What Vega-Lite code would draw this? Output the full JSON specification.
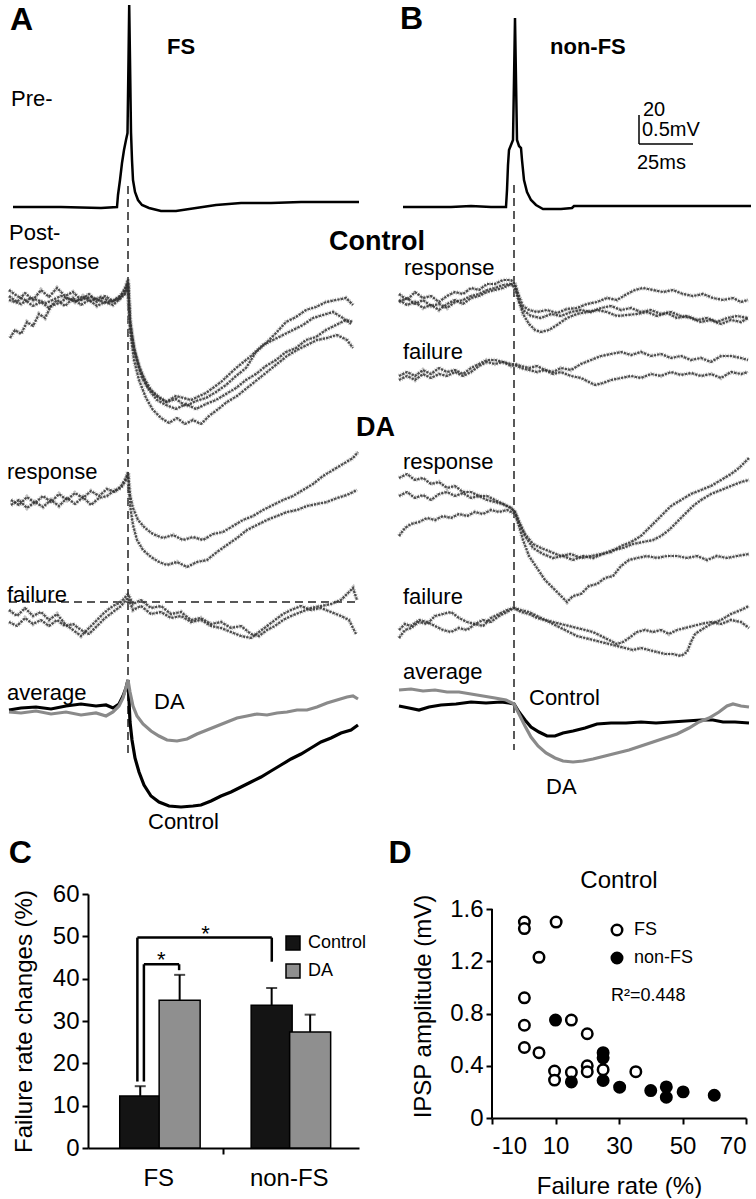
{
"$schema":"https://vega.github.io/schema/vega-lite/v6.json",
"padding":0,
"spacing":0,
"columns":1,
"align":"none",
"resolve":{"scale":{"color":"independent","fill":"independent"},"legend":{"color":"independent","fill":"independent"}},
"config":{"view":{"stroke":null},"font":"Liberation Sans",
"axis":{"domainColor":"black","domainWidth":2,"tickColor":"black","tickWidth":2,"tickSize":6,"labelColor":"black","titleColor":"black","labelFontSize":24,"titleFontSize":24,"titleFontWeight":"normal","grid":false,"labelFont":"Liberation Sans","titleFont":"Liberation Sans"},
"legend":{"labelFontSize":18,"labelColor":"black","labelFont":"Liberation Sans","padding":0},
"text":{"font":"Liberation Sans","color":"black"}},
"datasets":{
"pre":[
{"id":"pA","x":12,"y":207},{"id":"pA","x":60,"y":207},{"id":"pA","x":100,"y":208},{"id":"pA","x":116,"y":207},{"id":"pA","x":117,"y":195},{"id":"pA","x":119,"y":180},{"id":"pA","x":121,"y":163},{"id":"pA","x":123,"y":150},{"id":"pA","x":125,"y":140},{"id":"pA","x":126.5,"y":133},{"id":"pA","x":127.5,"y":60},{"id":"pA","x":128.2,"y":5},{"id":"pA","x":129,"y":60},{"id":"pA","x":130,"y":132},{"id":"pA","x":131,"y":160},{"id":"pA","x":132,"y":180},{"id":"pA","x":134,"y":192},{"id":"pA","x":137,"y":200},{"id":"pA","x":141,"y":205},{"id":"pA","x":148,"y":208},{"id":"pA","x":160,"y":211},{"id":"pA","x":175,"y":211},{"id":"pA","x":195,"y":208},{"id":"pA","x":215,"y":205},{"id":"pA","x":240,"y":203},{"id":"pA","x":270,"y":203},{"id":"pA","x":300,"y":202},{"id":"pA","x":330,"y":202},{"id":"pA","x":358,"y":202},
{"id":"pB","x":402,"y":207},{"id":"pB","x":450,"y":207},{"id":"pB","x":470,"y":206},{"id":"pB","x":490,"y":207},{"id":"pB","x":505,"y":207},{"id":"pB","x":506,"y":190},{"id":"pB","x":507,"y":165},{"id":"pB","x":508,"y":150},{"id":"pB","x":510,"y":145},{"id":"pB","x":512,"y":140},{"id":"pB","x":513,"y":80},{"id":"pB","x":514,"y":18},{"id":"pB","x":515,"y":80},{"id":"pB","x":516,"y":140},{"id":"pB","x":518,"y":146},{"id":"pB","x":520,"y":148},{"id":"pB","x":521,"y":160},{"id":"pB","x":523,"y":180},{"id":"pB","x":526,"y":192},{"id":"pB","x":530,"y":200},{"id":"pB","x":535,"y":205},{"id":"pB","x":542,"y":209},{"id":"pB","x":560,"y":209},{"id":"pB","x":571,"y":208},{"id":"pB","x":573,"y":206},{"id":"pB","x":600,"y":206},{"id":"pB","x":650,"y":206},{"id":"pB","x":700,"y":206},{"id":"pB","x":750,"y":206}
],
"noisy":[
{"id":"Ac1","x":8,"y":296},{"id":"Ac1","x":16,"y":302},{"id":"Ac1","x":24,"y":293},{"id":"Ac1","x":32,"y":300},{"id":"Ac1","x":40,"y":290},{"id":"Ac1","x":48,"y":297},{"id":"Ac1","x":56,"y":288},{"id":"Ac1","x":64,"y":296},{"id":"Ac1","x":72,"y":292},{"id":"Ac1","x":80,"y":300},{"id":"Ac1","x":88,"y":294},{"id":"Ac1","x":96,"y":302},{"id":"Ac1","x":104,"y":296},{"id":"Ac1","x":112,"y":301},{"id":"Ac1","x":120,"y":295},{"id":"Ac1","x":124,"y":290},{"id":"Ac1","x":127,"y":279},{"id":"Ac1","x":129,"y":318},{"id":"Ac1","x":131,"y":335},{"id":"Ac1","x":134,"y":352},{"id":"Ac1","x":138,"y":366},{"id":"Ac1","x":143,"y":378},{"id":"Ac1","x":150,"y":390},{"id":"Ac1","x":158,"y":397},{"id":"Ac1","x":166,"y":402},{"id":"Ac1","x":175,"y":399},{"id":"Ac1","x":185,"y":406},{"id":"Ac1","x":195,"y":401},{"id":"Ac1","x":205,"y":398},{"id":"Ac1","x":215,"y":392},{"id":"Ac1","x":225,"y":385},{"id":"Ac1","x":235,"y":376},{"id":"Ac1","x":245,"y":368},{"id":"Ac1","x":255,"y":352},{"id":"Ac1","x":265,"y":343},{"id":"Ac1","x":275,"y":333},{"id":"Ac1","x":285,"y":322},{"id":"Ac1","x":295,"y":317},{"id":"Ac1","x":305,"y":310},{"id":"Ac1","x":315,"y":307},{"id":"Ac1","x":325,"y":302},{"id":"Ac1","x":335,"y":300},{"id":"Ac1","x":345,"y":298},{"id":"Ac1","x":352,"y":305},
{"id":"Ac2","x":8,"y":290},{"id":"Ac2","x":16,"y":296},{"id":"Ac2","x":24,"y":300},{"id":"Ac2","x":32,"y":306},{"id":"Ac2","x":40,"y":302},{"id":"Ac2","x":48,"y":308},{"id":"Ac2","x":56,"y":300},{"id":"Ac2","x":64,"y":306},{"id":"Ac2","x":72,"y":298},{"id":"Ac2","x":80,"y":305},{"id":"Ac2","x":88,"y":300},{"id":"Ac2","x":96,"y":306},{"id":"Ac2","x":104,"y":302},{"id":"Ac2","x":112,"y":305},{"id":"Ac2","x":120,"y":298},{"id":"Ac2","x":125,"y":292},{"id":"Ac2","x":127,"y":282},{"id":"Ac2","x":129,"y":324},{"id":"Ac2","x":132,"y":345},{"id":"Ac2","x":136,"y":362},{"id":"Ac2","x":141,"y":378},{"id":"Ac2","x":148,"y":390},{"id":"Ac2","x":156,"y":400},{"id":"Ac2","x":165,"y":405},{"id":"Ac2","x":175,"y":409},{"id":"Ac2","x":185,"y":404},{"id":"Ac2","x":195,"y":409},{"id":"Ac2","x":205,"y":404},{"id":"Ac2","x":215,"y":400},{"id":"Ac2","x":225,"y":394},{"id":"Ac2","x":235,"y":388},{"id":"Ac2","x":245,"y":380},{"id":"Ac2","x":255,"y":374},{"id":"Ac2","x":265,"y":366},{"id":"Ac2","x":275,"y":360},{"id":"Ac2","x":285,"y":352},{"id":"Ac2","x":295,"y":348},{"id":"Ac2","x":305,"y":340},{"id":"Ac2","x":315,"y":337},{"id":"Ac2","x":325,"y":330},{"id":"Ac2","x":335,"y":325},{"id":"Ac2","x":345,"y":320},{"id":"Ac2","x":352,"y":322},
{"id":"Ac3","x":9,"y":338},{"id":"Ac3","x":14,"y":330},{"id":"Ac3","x":20,"y":334},{"id":"Ac3","x":26,"y":322},{"id":"Ac3","x":32,"y":326},{"id":"Ac3","x":38,"y":314},{"id":"Ac3","x":44,"y":318},{"id":"Ac3","x":50,"y":306},{"id":"Ac3","x":58,"y":303},{"id":"Ac3","x":66,"y":298},{"id":"Ac3","x":74,"y":302},{"id":"Ac3","x":82,"y":296},{"id":"Ac3","x":90,"y":301},{"id":"Ac3","x":100,"y":297},{"id":"Ac3","x":110,"y":302},{"id":"Ac3","x":118,"y":298},{"id":"Ac3","x":124,"y":294},{"id":"Ac3","x":127,"y":284},{"id":"Ac3","x":129,"y":330},{"id":"Ac3","x":133,"y":360},{"id":"Ac3","x":138,"y":380},{"id":"Ac3","x":145,"y":398},{"id":"Ac3","x":152,"y":410},{"id":"Ac3","x":160,"y":418},{"id":"Ac3","x":168,"y":423},{"id":"Ac3","x":176,"y":418},{"id":"Ac3","x":184,"y":424},{"id":"Ac3","x":192,"y":420},{"id":"Ac3","x":200,"y":424},{"id":"Ac3","x":208,"y":416},{"id":"Ac3","x":216,"y":410},{"id":"Ac3","x":226,"y":402},{"id":"Ac3","x":236,"y":396},{"id":"Ac3","x":246,"y":388},{"id":"Ac3","x":256,"y":380},{"id":"Ac3","x":266,"y":372},{"id":"Ac3","x":276,"y":364},{"id":"Ac3","x":286,"y":356},{"id":"Ac3","x":296,"y":350},{"id":"Ac3","x":306,"y":345},{"id":"Ac3","x":316,"y":340},{"id":"Ac3","x":326,"y":338},{"id":"Ac3","x":336,"y":335},{"id":"Ac3","x":346,"y":340},{"id":"Ac3","x":352,"y":348},
{"id":"Ac4","x":8,"y":300},{"id":"Ac4","x":20,"y":304},{"id":"Ac4","x":30,"y":298},{"id":"Ac4","x":45,"y":303},{"id":"Ac4","x":60,"y":296},{"id":"Ac4","x":75,"y":301},{"id":"Ac4","x":90,"y":297},{"id":"Ac4","x":105,"y":303},{"id":"Ac4","x":118,"y":299},{"id":"Ac4","x":127,"y":283},{"id":"Ac4","x":129,"y":322},{"id":"Ac4","x":133,"y":348},{"id":"Ac4","x":139,"y":370},{"id":"Ac4","x":146,"y":386},{"id":"Ac4","x":155,"y":396},{"id":"Ac4","x":165,"y":402},{"id":"Ac4","x":175,"y":396},{"id":"Ac4","x":190,"y":400},{"id":"Ac4","x":205,"y":393},{"id":"Ac4","x":220,"y":382},{"id":"Ac4","x":235,"y":368},{"id":"Ac4","x":250,"y":356},{"id":"Ac4","x":262,"y":345},{"id":"Ac4","x":272,"y":340},{"id":"Ac4","x":282,"y":335},{"id":"Ac4","x":292,"y":330},{"id":"Ac4","x":302,"y":325},{"id":"Ac4","x":312,"y":318},{"id":"Ac4","x":322,"y":315},{"id":"Ac4","x":332,"y":312},{"id":"Ac4","x":342,"y":318},{"id":"Ac4","x":350,"y":324},
{"id":"Ad1","x":10,"y":500},{"id":"Ad1","x":18,"y":505},{"id":"Ad1","x":26,"y":497},{"id":"Ad1","x":34,"y":503},{"id":"Ad1","x":42,"y":496},{"id":"Ad1","x":50,"y":502},{"id":"Ad1","x":58,"y":494},{"id":"Ad1","x":66,"y":500},{"id":"Ad1","x":74,"y":493},{"id":"Ad1","x":82,"y":498},{"id":"Ad1","x":90,"y":491},{"id":"Ad1","x":98,"y":496},{"id":"Ad1","x":106,"y":489},{"id":"Ad1","x":114,"y":492},{"id":"Ad1","x":120,"y":486},{"id":"Ad1","x":125,"y":478},{"id":"Ad1","x":127,"y":472},{"id":"Ad1","x":129,"y":495},{"id":"Ad1","x":132,"y":508},{"id":"Ad1","x":137,"y":520},{"id":"Ad1","x":144,"y":528},{"id":"Ad1","x":152,"y":534},{"id":"Ad1","x":162,"y":538},{"id":"Ad1","x":172,"y":535},{"id":"Ad1","x":182,"y":540},{"id":"Ad1","x":192,"y":537},{"id":"Ad1","x":202,"y":540},{"id":"Ad1","x":212,"y":534},{"id":"Ad1","x":222,"y":532},{"id":"Ad1","x":232,"y":526},{"id":"Ad1","x":242,"y":520},{"id":"Ad1","x":252,"y":516},{"id":"Ad1","x":262,"y":510},{"id":"Ad1","x":272,"y":505},{"id":"Ad1","x":282,"y":500},{"id":"Ad1","x":292,"y":496},{"id":"Ad1","x":302,"y":490},{"id":"Ad1","x":312,"y":484},{"id":"Ad1","x":322,"y":476},{"id":"Ad1","x":332,"y":470},{"id":"Ad1","x":342,"y":464},{"id":"Ad1","x":352,"y":458},{"id":"Ad1","x":357,"y":452},
{"id":"Ad2","x":10,"y":505},{"id":"Ad2","x":18,"y":500},{"id":"Ad2","x":26,"y":508},{"id":"Ad2","x":34,"y":502},{"id":"Ad2","x":42,"y":507},{"id":"Ad2","x":50,"y":500},{"id":"Ad2","x":58,"y":506},{"id":"Ad2","x":66,"y":498},{"id":"Ad2","x":74,"y":504},{"id":"Ad2","x":82,"y":497},{"id":"Ad2","x":90,"y":505},{"id":"Ad2","x":98,"y":498},{"id":"Ad2","x":106,"y":496},{"id":"Ad2","x":114,"y":490},{"id":"Ad2","x":120,"y":488},{"id":"Ad2","x":125,"y":480},{"id":"Ad2","x":127,"y":474},{"id":"Ad2","x":129,"y":505},{"id":"Ad2","x":132,"y":525},{"id":"Ad2","x":136,"y":540},{"id":"Ad2","x":142,"y":550},{"id":"Ad2","x":150,"y":557},{"id":"Ad2","x":158,"y":562},{"id":"Ad2","x":166,"y":565},{"id":"Ad2","x":176,"y":562},{"id":"Ad2","x":186,"y":567},{"id":"Ad2","x":196,"y":562},{"id":"Ad2","x":206,"y":560},{"id":"Ad2","x":216,"y":552},{"id":"Ad2","x":226,"y":545},{"id":"Ad2","x":236,"y":538},{"id":"Ad2","x":246,"y":530},{"id":"Ad2","x":256,"y":525},{"id":"Ad2","x":266,"y":520},{"id":"Ad2","x":276,"y":516},{"id":"Ad2","x":286,"y":512},{"id":"Ad2","x":296,"y":510},{"id":"Ad2","x":306,"y":506},{"id":"Ad2","x":316,"y":504},{"id":"Ad2","x":326,"y":502},{"id":"Ad2","x":336,"y":498},{"id":"Ad2","x":346,"y":495},{"id":"Ad2","x":356,"y":490},
{"id":"Af1","x":8,"y":610},{"id":"Af1","x":16,"y":616},{"id":"Af1","x":24,"y":608},{"id":"Af1","x":32,"y":616},{"id":"Af1","x":40,"y":612},{"id":"Af1","x":48,"y":620},{"id":"Af1","x":56,"y":614},{"id":"Af1","x":64,"y":624},{"id":"Af1","x":72,"y":630},{"id":"Af1","x":80,"y":636},{"id":"Af1","x":88,"y":628},{"id":"Af1","x":96,"y":620},{"id":"Af1","x":104,"y":612},{"id":"Af1","x":112,"y":606},{"id":"Af1","x":120,"y":602},{"id":"Af1","x":127,"y":594},{"id":"Af1","x":132,"y":604},{"id":"Af1","x":140,"y":600},{"id":"Af1","x":150,"y":608},{"id":"Af1","x":160,"y":606},{"id":"Af1","x":170,"y":614},{"id":"Af1","x":180,"y":612},{"id":"Af1","x":190,"y":620},{"id":"Af1","x":200,"y":618},{"id":"Af1","x":210,"y":624},{"id":"Af1","x":220,"y":622},{"id":"Af1","x":230,"y":628},{"id":"Af1","x":240,"y":626},{"id":"Af1","x":250,"y":634},{"id":"Af1","x":258,"y":636},{"id":"Af1","x":266,"y":630},{"id":"Af1","x":274,"y":626},{"id":"Af1","x":282,"y":620},{"id":"Af1","x":290,"y":616},{"id":"Af1","x":300,"y":612},{"id":"Af1","x":310,"y":608},{"id":"Af1","x":320,"y":606},{"id":"Af1","x":330,"y":604},{"id":"Af1","x":340,"y":600},{"id":"Af1","x":348,"y":592},{"id":"Af1","x":352,"y":588},{"id":"Af1","x":356,"y":600},
{"id":"Af2","x":8,"y":622},{"id":"Af2","x":16,"y":626},{"id":"Af2","x":24,"y":618},{"id":"Af2","x":32,"y":624},{"id":"Af2","x":40,"y":620},{"id":"Af2","x":48,"y":626},{"id":"Af2","x":56,"y":620},{"id":"Af2","x":64,"y":626},{"id":"Af2","x":72,"y":624},{"id":"Af2","x":80,"y":630},{"id":"Af2","x":88,"y":634},{"id":"Af2","x":96,"y":626},{"id":"Af2","x":104,"y":618},{"id":"Af2","x":112,"y":612},{"id":"Af2","x":120,"y":606},{"id":"Af2","x":127,"y":598},{"id":"Af2","x":132,"y":610},{"id":"Af2","x":140,"y":606},{"id":"Af2","x":150,"y":614},{"id":"Af2","x":160,"y":612},{"id":"Af2","x":170,"y":618},{"id":"Af2","x":180,"y":616},{"id":"Af2","x":190,"y":622},{"id":"Af2","x":200,"y":620},{"id":"Af2","x":210,"y":626},{"id":"Af2","x":220,"y":628},{"id":"Af2","x":230,"y":632},{"id":"Af2","x":240,"y":636},{"id":"Af2","x":250,"y":638},{"id":"Af2","x":258,"y":632},{"id":"Af2","x":266,"y":626},{"id":"Af2","x":274,"y":620},{"id":"Af2","x":282,"y":614},{"id":"Af2","x":290,"y":610},{"id":"Af2","x":300,"y":606},{"id":"Af2","x":310,"y":610},{"id":"Af2","x":320,"y":608},{"id":"Af2","x":330,"y":612},{"id":"Af2","x":340,"y":616},{"id":"Af2","x":348,"y":620},{"id":"Af2","x":352,"y":628},{"id":"Af2","x":355,"y":634},
{"id":"Bc1","x":398,"y":294},{"id":"Bc1","x":406,"y":300},{"id":"Bc1","x":414,"y":292},{"id":"Bc1","x":422,"y":298},{"id":"Bc1","x":430,"y":296},{"id":"Bc1","x":438,"y":302},{"id":"Bc1","x":446,"y":296},{"id":"Bc1","x":454,"y":292},{"id":"Bc1","x":462,"y":294},{"id":"Bc1","x":470,"y":288},{"id":"Bc1","x":478,"y":290},{"id":"Bc1","x":486,"y":284},{"id":"Bc1","x":494,"y":284},{"id":"Bc1","x":502,"y":280},{"id":"Bc1","x":510,"y":280},{"id":"Bc1","x":514,"y":284},{"id":"Bc1","x":518,"y":296},{"id":"Bc1","x":522,"y":306},{"id":"Bc1","x":528,"y":310},{"id":"Bc1","x":536,"y":312},{"id":"Bc1","x":546,"y":310},{"id":"Bc1","x":556,"y":313},{"id":"Bc1","x":566,"y":309},{"id":"Bc1","x":576,"y":308},{"id":"Bc1","x":586,"y":304},{"id":"Bc1","x":596,"y":302},{"id":"Bc1","x":606,"y":298},{"id":"Bc1","x":616,"y":300},{"id":"Bc1","x":626,"y":294},{"id":"Bc1","x":634,"y":290},{"id":"Bc1","x":642,"y":288},{"id":"Bc1","x":652,"y":290},{"id":"Bc1","x":662,"y":292},{"id":"Bc1","x":672,"y":290},{"id":"Bc1","x":682,"y":294},{"id":"Bc1","x":692,"y":296},{"id":"Bc1","x":702,"y":294},{"id":"Bc1","x":712,"y":298},{"id":"Bc1","x":722,"y":300},{"id":"Bc1","x":732,"y":298},{"id":"Bc1","x":740,"y":302},{"id":"Bc1","x":747,"y":300},
{"id":"Bc2","x":398,"y":300},{"id":"Bc2","x":406,"y":305},{"id":"Bc2","x":414,"y":302},{"id":"Bc2","x":422,"y":308},{"id":"Bc2","x":430,"y":305},{"id":"Bc2","x":438,"y":310},{"id":"Bc2","x":446,"y":304},{"id":"Bc2","x":454,"y":300},{"id":"Bc2","x":462,"y":304},{"id":"Bc2","x":470,"y":298},{"id":"Bc2","x":478,"y":296},{"id":"Bc2","x":486,"y":292},{"id":"Bc2","x":494,"y":290},{"id":"Bc2","x":502,"y":288},{"id":"Bc2","x":510,"y":284},{"id":"Bc2","x":514,"y":286},{"id":"Bc2","x":518,"y":300},{"id":"Bc2","x":522,"y":314},{"id":"Bc2","x":528,"y":324},{"id":"Bc2","x":534,"y":330},{"id":"Bc2","x":540,"y":332},{"id":"Bc2","x":548,"y":330},{"id":"Bc2","x":556,"y":325},{"id":"Bc2","x":566,"y":318},{"id":"Bc2","x":576,"y":314},{"id":"Bc2","x":586,"y":312},{"id":"Bc2","x":596,"y":310},{"id":"Bc2","x":606,"y":312},{"id":"Bc2","x":616,"y":316},{"id":"Bc2","x":626,"y":315},{"id":"Bc2","x":636,"y":314},{"id":"Bc2","x":646,"y":312},{"id":"Bc2","x":656,"y":316},{"id":"Bc2","x":666,"y":313},{"id":"Bc2","x":676,"y":318},{"id":"Bc2","x":686,"y":316},{"id":"Bc2","x":696,"y":320},{"id":"Bc2","x":706,"y":318},{"id":"Bc2","x":716,"y":322},{"id":"Bc2","x":726,"y":318},{"id":"Bc2","x":736,"y":316},{"id":"Bc2","x":747,"y":318},
{"id":"Bc3","x":398,"y":302},{"id":"Bc3","x":406,"y":298},{"id":"Bc3","x":414,"y":304},{"id":"Bc3","x":422,"y":300},{"id":"Bc3","x":430,"y":306},{"id":"Bc3","x":438,"y":304},{"id":"Bc3","x":446,"y":308},{"id":"Bc3","x":454,"y":302},{"id":"Bc3","x":462,"y":300},{"id":"Bc3","x":470,"y":296},{"id":"Bc3","x":478,"y":294},{"id":"Bc3","x":486,"y":290},{"id":"Bc3","x":494,"y":288},{"id":"Bc3","x":502,"y":285},{"id":"Bc3","x":510,"y":284},{"id":"Bc3","x":514,"y":288},{"id":"Bc3","x":518,"y":302},{"id":"Bc3","x":522,"y":310},{"id":"Bc3","x":530,"y":316},{"id":"Bc3","x":540,"y":318},{"id":"Bc3","x":550,"y":314},{"id":"Bc3","x":560,"y":316},{"id":"Bc3","x":570,"y":312},{"id":"Bc3","x":580,"y":310},{"id":"Bc3","x":590,"y":312},{"id":"Bc3","x":600,"y":308},{"id":"Bc3","x":610,"y":306},{"id":"Bc3","x":620,"y":310},{"id":"Bc3","x":630,"y":308},{"id":"Bc3","x":640,"y":312},{"id":"Bc3","x":650,"y":310},{"id":"Bc3","x":660,"y":314},{"id":"Bc3","x":670,"y":312},{"id":"Bc3","x":680,"y":316},{"id":"Bc3","x":690,"y":318},{"id":"Bc3","x":700,"y":322},{"id":"Bc3","x":710,"y":320},{"id":"Bc3","x":720,"y":324},{"id":"Bc3","x":730,"y":320},{"id":"Bc3","x":740,"y":322},{"id":"Bc3","x":747,"y":318},
{"id":"Bf1","x":398,"y":376},{"id":"Bf1","x":406,"y":372},{"id":"Bf1","x":414,"y":376},{"id":"Bf1","x":422,"y":370},{"id":"Bf1","x":430,"y":374},{"id":"Bf1","x":438,"y":368},{"id":"Bf1","x":446,"y":372},{"id":"Bf1","x":454,"y":370},{"id":"Bf1","x":462,"y":374},{"id":"Bf1","x":470,"y":368},{"id":"Bf1","x":478,"y":364},{"id":"Bf1","x":486,"y":360},{"id":"Bf1","x":494,"y":360},{"id":"Bf1","x":502,"y":362},{"id":"Bf1","x":510,"y":364},{"id":"Bf1","x":514,"y":364},{"id":"Bf1","x":520,"y":366},{"id":"Bf1","x":528,"y":368},{"id":"Bf1","x":536,"y":366},{"id":"Bf1","x":544,"y":370},{"id":"Bf1","x":552,"y":372},{"id":"Bf1","x":560,"y":368},{"id":"Bf1","x":570,"y":370},{"id":"Bf1","x":580,"y":364},{"id":"Bf1","x":590,"y":360},{"id":"Bf1","x":600,"y":356},{"id":"Bf1","x":610,"y":354},{"id":"Bf1","x":620,"y":352},{"id":"Bf1","x":630,"y":355},{"id":"Bf1","x":640,"y":352},{"id":"Bf1","x":650,"y":356},{"id":"Bf1","x":660,"y":354},{"id":"Bf1","x":670,"y":358},{"id":"Bf1","x":680,"y":356},{"id":"Bf1","x":690,"y":360},{"id":"Bf1","x":700,"y":358},{"id":"Bf1","x":710,"y":362},{"id":"Bf1","x":720,"y":356},{"id":"Bf1","x":730,"y":356},{"id":"Bf1","x":740,"y":358},{"id":"Bf1","x":747,"y":360},
{"id":"Bf2","x":398,"y":380},{"id":"Bf2","x":406,"y":376},{"id":"Bf2","x":414,"y":380},{"id":"Bf2","x":422,"y":374},{"id":"Bf2","x":430,"y":378},{"id":"Bf2","x":438,"y":374},{"id":"Bf2","x":446,"y":376},{"id":"Bf2","x":454,"y":372},{"id":"Bf2","x":462,"y":376},{"id":"Bf2","x":470,"y":372},{"id":"Bf2","x":478,"y":366},{"id":"Bf2","x":486,"y":362},{"id":"Bf2","x":494,"y":364},{"id":"Bf2","x":502,"y":362},{"id":"Bf2","x":510,"y":366},{"id":"Bf2","x":514,"y":365},{"id":"Bf2","x":520,"y":368},{"id":"Bf2","x":528,"y":370},{"id":"Bf2","x":536,"y":372},{"id":"Bf2","x":544,"y":370},{"id":"Bf2","x":552,"y":374},{"id":"Bf2","x":560,"y":372},{"id":"Bf2","x":570,"y":376},{"id":"Bf2","x":580,"y":378},{"id":"Bf2","x":588,"y":382},{"id":"Bf2","x":594,"y":385},{"id":"Bf2","x":602,"y":383},{"id":"Bf2","x":610,"y":380},{"id":"Bf2","x":620,"y":378},{"id":"Bf2","x":630,"y":376},{"id":"Bf2","x":640,"y":378},{"id":"Bf2","x":650,"y":374},{"id":"Bf2","x":660,"y":376},{"id":"Bf2","x":670,"y":372},{"id":"Bf2","x":680,"y":375},{"id":"Bf2","x":690,"y":373},{"id":"Bf2","x":700,"y":376},{"id":"Bf2","x":710,"y":374},{"id":"Bf2","x":720,"y":378},{"id":"Bf2","x":730,"y":372},{"id":"Bf2","x":740,"y":374},{"id":"Bf2","x":747,"y":372},
{"id":"Bd1","x":398,"y":478},{"id":"Bd1","x":406,"y":474},{"id":"Bd1","x":414,"y":480},{"id":"Bd1","x":422,"y":478},{"id":"Bd1","x":430,"y":484},{"id":"Bd1","x":438,"y":482},{"id":"Bd1","x":446,"y":488},{"id":"Bd1","x":454,"y":486},{"id":"Bd1","x":462,"y":492},{"id":"Bd1","x":470,"y":492},{"id":"Bd1","x":478,"y":496},{"id":"Bd1","x":486,"y":496},{"id":"Bd1","x":494,"y":500},{"id":"Bd1","x":502,"y":504},{"id":"Bd1","x":510,"y":508},{"id":"Bd1","x":514,"y":512},{"id":"Bd1","x":518,"y":522},{"id":"Bd1","x":524,"y":534},{"id":"Bd1","x":532,"y":544},{"id":"Bd1","x":540,"y":548},{"id":"Bd1","x":550,"y":552},{"id":"Bd1","x":560,"y":556},{"id":"Bd1","x":570,"y":554},{"id":"Bd1","x":580,"y":558},{"id":"Bd1","x":590,"y":556},{"id":"Bd1","x":600,"y":554},{"id":"Bd1","x":610,"y":552},{"id":"Bd1","x":620,"y":546},{"id":"Bd1","x":630,"y":542},{"id":"Bd1","x":640,"y":536},{"id":"Bd1","x":650,"y":526},{"id":"Bd1","x":660,"y":516},{"id":"Bd1","x":670,"y":506},{"id":"Bd1","x":680,"y":500},{"id":"Bd1","x":690,"y":494},{"id":"Bd1","x":700,"y":490},{"id":"Bd1","x":710,"y":486},{"id":"Bd1","x":720,"y":480},{"id":"Bd1","x":730,"y":474},{"id":"Bd1","x":738,"y":468},{"id":"Bd1","x":744,"y":462},{"id":"Bd1","x":748,"y":458},
{"id":"Bd2","x":398,"y":496},{"id":"Bd2","x":406,"y":492},{"id":"Bd2","x":414,"y":498},{"id":"Bd2","x":422,"y":495},{"id":"Bd2","x":430,"y":500},{"id":"Bd2","x":438,"y":494},{"id":"Bd2","x":446,"y":492},{"id":"Bd2","x":454,"y":496},{"id":"Bd2","x":462,"y":493},{"id":"Bd2","x":470,"y":498},{"id":"Bd2","x":478,"y":496},{"id":"Bd2","x":486,"y":500},{"id":"Bd2","x":494,"y":502},{"id":"Bd2","x":502,"y":504},{"id":"Bd2","x":510,"y":508},{"id":"Bd2","x":514,"y":512},{"id":"Bd2","x":518,"y":522},{"id":"Bd2","x":524,"y":536},{"id":"Bd2","x":532,"y":548},{"id":"Bd2","x":542,"y":554},{"id":"Bd2","x":552,"y":558},{"id":"Bd2","x":562,"y":556},{"id":"Bd2","x":572,"y":560},{"id":"Bd2","x":582,"y":556},{"id":"Bd2","x":592,"y":558},{"id":"Bd2","x":602,"y":554},{"id":"Bd2","x":612,"y":550},{"id":"Bd2","x":622,"y":548},{"id":"Bd2","x":632,"y":544},{"id":"Bd2","x":642,"y":542},{"id":"Bd2","x":652,"y":540},{"id":"Bd2","x":660,"y":536},{"id":"Bd2","x":668,"y":530},{"id":"Bd2","x":676,"y":522},{"id":"Bd2","x":684,"y":514},{"id":"Bd2","x":692,"y":506},{"id":"Bd2","x":700,"y":500},{"id":"Bd2","x":710,"y":494},{"id":"Bd2","x":720,"y":490},{"id":"Bd2","x":730,"y":486},{"id":"Bd2","x":740,"y":482},{"id":"Bd2","x":748,"y":480},
{"id":"Bd3","x":398,"y":536},{"id":"Bd3","x":404,"y":528},{"id":"Bd3","x":410,"y":524},{"id":"Bd3","x":418,"y":522},{"id":"Bd3","x":426,"y":518},{"id":"Bd3","x":434,"y":520},{"id":"Bd3","x":442,"y":516},{"id":"Bd3","x":450,"y":518},{"id":"Bd3","x":458,"y":514},{"id":"Bd3","x":466,"y":516},{"id":"Bd3","x":474,"y":512},{"id":"Bd3","x":482,"y":514},{"id":"Bd3","x":490,"y":510},{"id":"Bd3","x":498,"y":512},{"id":"Bd3","x":506,"y":510},{"id":"Bd3","x":514,"y":514},{"id":"Bd3","x":518,"y":526},{"id":"Bd3","x":522,"y":540},{"id":"Bd3","x":528,"y":556},{"id":"Bd3","x":536,"y":568},{"id":"Bd3","x":544,"y":580},{"id":"Bd3","x":552,"y":588},{"id":"Bd3","x":560,"y":596},{"id":"Bd3","x":566,"y":602},{"id":"Bd3","x":572,"y":596},{"id":"Bd3","x":580,"y":594},{"id":"Bd3","x":588,"y":586},{"id":"Bd3","x":596,"y":584},{"id":"Bd3","x":604,"y":578},{"id":"Bd3","x":612,"y":576},{"id":"Bd3","x":620,"y":566},{"id":"Bd3","x":628,"y":560},{"id":"Bd3","x":636,"y":558},{"id":"Bd3","x":646,"y":556},{"id":"Bd3","x":656,"y":558},{"id":"Bd3","x":666,"y":556},{"id":"Bd3","x":676,"y":556},{"id":"Bd3","x":686,"y":558},{"id":"Bd3","x":696,"y":556},{"id":"Bd3","x":706,"y":560},{"id":"Bd3","x":716,"y":556},{"id":"Bd3","x":726,"y":558},{"id":"Bd3","x":736,"y":556},{"id":"Bd3","x":748,"y":554},
{"id":"Bx1","x":398,"y":638},{"id":"Bx1","x":404,"y":630},{"id":"Bx1","x":410,"y":628},{"id":"Bx1","x":418,"y":622},{"id":"Bx1","x":426,"y":624},{"id":"Bx1","x":434,"y":616},{"id":"Bx1","x":442,"y":614},{"id":"Bx1","x":450,"y":612},{"id":"Bx1","x":458,"y":618},{"id":"Bx1","x":466,"y":622},{"id":"Bx1","x":474,"y":624},{"id":"Bx1","x":482,"y":620},{"id":"Bx1","x":490,"y":622},{"id":"Bx1","x":498,"y":616},{"id":"Bx1","x":506,"y":612},{"id":"Bx1","x":513,"y":608},{"id":"Bx1","x":520,"y":610},{"id":"Bx1","x":528,"y":612},{"id":"Bx1","x":536,"y":616},{"id":"Bx1","x":544,"y":620},{"id":"Bx1","x":552,"y":622},{"id":"Bx1","x":560,"y":624},{"id":"Bx1","x":568,"y":626},{"id":"Bx1","x":576,"y":628},{"id":"Bx1","x":584,"y":630},{"id":"Bx1","x":592,"y":632},{"id":"Bx1","x":600,"y":636},{"id":"Bx1","x":608,"y":640},{"id":"Bx1","x":616,"y":644},{"id":"Bx1","x":622,"y":642},{"id":"Bx1","x":628,"y":638},{"id":"Bx1","x":636,"y":632},{"id":"Bx1","x":644,"y":630},{"id":"Bx1","x":652,"y":632},{"id":"Bx1","x":660,"y":630},{"id":"Bx1","x":668,"y":634},{"id":"Bx1","x":676,"y":630},{"id":"Bx1","x":684,"y":628},{"id":"Bx1","x":692,"y":626},{"id":"Bx1","x":700,"y":624},{"id":"Bx1","x":710,"y":622},{"id":"Bx1","x":720,"y":624},{"id":"Bx1","x":730,"y":620},{"id":"Bx1","x":740,"y":622},{"id":"Bx1","x":748,"y":628},
{"id":"Bx2","x":398,"y":630},{"id":"Bx2","x":404,"y":624},{"id":"Bx2","x":410,"y":626},{"id":"Bx2","x":418,"y":620},{"id":"Bx2","x":426,"y":622},{"id":"Bx2","x":434,"y":626},{"id":"Bx2","x":442,"y":630},{"id":"Bx2","x":450,"y":632},{"id":"Bx2","x":458,"y":628},{"id":"Bx2","x":466,"y":630},{"id":"Bx2","x":474,"y":624},{"id":"Bx2","x":482,"y":626},{"id":"Bx2","x":490,"y":618},{"id":"Bx2","x":498,"y":614},{"id":"Bx2","x":506,"y":610},{"id":"Bx2","x":513,"y":608},{"id":"Bx2","x":520,"y":612},{"id":"Bx2","x":528,"y":614},{"id":"Bx2","x":536,"y":618},{"id":"Bx2","x":544,"y":620},{"id":"Bx2","x":552,"y":624},{"id":"Bx2","x":560,"y":628},{"id":"Bx2","x":568,"y":632},{"id":"Bx2","x":576,"y":636},{"id":"Bx2","x":584,"y":638},{"id":"Bx2","x":592,"y":640},{"id":"Bx2","x":600,"y":642},{"id":"Bx2","x":608,"y":644},{"id":"Bx2","x":616,"y":646},{"id":"Bx2","x":624,"y":648},{"id":"Bx2","x":632,"y":650},{"id":"Bx2","x":640,"y":648},{"id":"Bx2","x":648,"y":650},{"id":"Bx2","x":656,"y":652},{"id":"Bx2","x":664,"y":654},{"id":"Bx2","x":672,"y":654},{"id":"Bx2","x":680,"y":656},{"id":"Bx2","x":686,"y":652},{"id":"Bx2","x":690,"y":642},{"id":"Bx2","x":694,"y":634},{"id":"Bx2","x":700,"y":630},{"id":"Bx2","x":710,"y":624},{"id":"Bx2","x":720,"y":620},{"id":"Bx2","x":730,"y":614},{"id":"Bx2","x":740,"y":610},{"id":"Bx2","x":748,"y":606}
],
"avg":[
{"id":"aAC","cond":"Control","x":8,"y":710},{"id":"aAC","cond":"Control","x":20,"y":708},{"id":"aAC","cond":"Control","x":35,"y":707},{"id":"aAC","cond":"Control","x":50,"y":709},{"id":"aAC","cond":"Control","x":65,"y":706},{"id":"aAC","cond":"Control","x":80,"y":704},{"id":"aAC","cond":"Control","x":95,"y":706},{"id":"aAC","cond":"Control","x":105,"y":705},{"id":"aAC","cond":"Control","x":112,"y":708},{"id":"aAC","cond":"Control","x":118,"y":704},{"id":"aAC","cond":"Control","x":122,"y":696},{"id":"aAC","cond":"Control","x":125,"y":688},{"id":"aAC","cond":"Control","x":127,"y":680},{"id":"aAC","cond":"Control","x":128,"y":700},{"id":"aAC","cond":"Control","x":129,"y":722},{"id":"aAC","cond":"Control","x":131,"y":740},{"id":"aAC","cond":"Control","x":134,"y":758},{"id":"aAC","cond":"Control","x":138,"y":772},{"id":"aAC","cond":"Control","x":143,"y":785},{"id":"aAC","cond":"Control","x":150,"y":796},{"id":"aAC","cond":"Control","x":158,"y":802},{"id":"aAC","cond":"Control","x":168,"y":806},{"id":"aAC","cond":"Control","x":180,"y":807},{"id":"aAC","cond":"Control","x":192,"y":806},{"id":"aAC","cond":"Control","x":200,"y":805},{"id":"aAC","cond":"Control","x":210,"y":801},{"id":"aAC","cond":"Control","x":220,"y":796},{"id":"aAC","cond":"Control","x":230,"y":792},{"id":"aAC","cond":"Control","x":240,"y":787},{"id":"aAC","cond":"Control","x":250,"y":782},{"id":"aAC","cond":"Control","x":260,"y":777},{"id":"aAC","cond":"Control","x":270,"y":771},{"id":"aAC","cond":"Control","x":280,"y":765},{"id":"aAC","cond":"Control","x":290,"y":759},{"id":"aAC","cond":"Control","x":300,"y":754},{"id":"aAC","cond":"Control","x":310,"y":748},{"id":"aAC","cond":"Control","x":320,"y":742},{"id":"aAC","cond":"Control","x":330,"y":738},{"id":"aAC","cond":"Control","x":340,"y":733},{"id":"aAC","cond":"Control","x":350,"y":730},{"id":"aAC","cond":"Control","x":357,"y":725},
{"id":"aAD","cond":"DA","x":8,"y":712},{"id":"aAD","cond":"DA","x":20,"y":713},{"id":"aAD","cond":"DA","x":35,"y":711},{"id":"aAD","cond":"DA","x":50,"y":714},{"id":"aAD","cond":"DA","x":65,"y":712},{"id":"aAD","cond":"DA","x":80,"y":715},{"id":"aAD","cond":"DA","x":95,"y":713},{"id":"aAD","cond":"DA","x":105,"y":716},{"id":"aAD","cond":"DA","x":112,"y":712},{"id":"aAD","cond":"DA","x":118,"y":706},{"id":"aAD","cond":"DA","x":122,"y":698},{"id":"aAD","cond":"DA","x":125,"y":688},{"id":"aAD","cond":"DA","x":127,"y":680},{"id":"aAD","cond":"DA","x":129,"y":692},{"id":"aAD","cond":"DA","x":132,"y":706},{"id":"aAD","cond":"DA","x":136,"y":716},{"id":"aAD","cond":"DA","x":142,"y":724},{"id":"aAD","cond":"DA","x":150,"y":731},{"id":"aAD","cond":"DA","x":158,"y":736},{"id":"aAD","cond":"DA","x":166,"y":740},{"id":"aAD","cond":"DA","x":176,"y":741},{"id":"aAD","cond":"DA","x":186,"y":739},{"id":"aAD","cond":"DA","x":196,"y":734},{"id":"aAD","cond":"DA","x":206,"y":730},{"id":"aAD","cond":"DA","x":216,"y":726},{"id":"aAD","cond":"DA","x":226,"y":722},{"id":"aAD","cond":"DA","x":236,"y":718},{"id":"aAD","cond":"DA","x":246,"y":716},{"id":"aAD","cond":"DA","x":256,"y":714},{"id":"aAD","cond":"DA","x":266,"y":715},{"id":"aAD","cond":"DA","x":276,"y":713},{"id":"aAD","cond":"DA","x":286,"y":712},{"id":"aAD","cond":"DA","x":296,"y":710},{"id":"aAD","cond":"DA","x":306,"y":710},{"id":"aAD","cond":"DA","x":316,"y":707},{"id":"aAD","cond":"DA","x":326,"y":703},{"id":"aAD","cond":"DA","x":336,"y":700},{"id":"aAD","cond":"DA","x":346,"y":697},{"id":"aAD","cond":"DA","x":352,"y":696},{"id":"aAD","cond":"DA","x":357,"y":699},
{"id":"aBC","cond":"Control","x":398,"y":706},{"id":"aBC","cond":"Control","x":408,"y":708},{"id":"aBC","cond":"Control","x":418,"y":710},{"id":"aBC","cond":"Control","x":428,"y":707},{"id":"aBC","cond":"Control","x":440,"y":705},{"id":"aBC","cond":"Control","x":455,"y":704},{"id":"aBC","cond":"Control","x":470,"y":702},{"id":"aBC","cond":"Control","x":485,"y":703},{"id":"aBC","cond":"Control","x":500,"y":702},{"id":"aBC","cond":"Control","x":508,"y":703},{"id":"aBC","cond":"Control","x":513,"y":704},{"id":"aBC","cond":"Control","x":518,"y":712},{"id":"aBC","cond":"Control","x":524,"y":720},{"id":"aBC","cond":"Control","x":530,"y":727},{"id":"aBC","cond":"Control","x":538,"y":732},{"id":"aBC","cond":"Control","x":546,"y":736},{"id":"aBC","cond":"Control","x":554,"y":736},{"id":"aBC","cond":"Control","x":562,"y":733},{"id":"aBC","cond":"Control","x":572,"y":731},{"id":"aBC","cond":"Control","x":584,"y":728},{"id":"aBC","cond":"Control","x":596,"y":724},{"id":"aBC","cond":"Control","x":610,"y":723},{"id":"aBC","cond":"Control","x":625,"y":723},{"id":"aBC","cond":"Control","x":640,"y":722},{"id":"aBC","cond":"Control","x":655,"y":723},{"id":"aBC","cond":"Control","x":670,"y":722},{"id":"aBC","cond":"Control","x":685,"y":721},{"id":"aBC","cond":"Control","x":700,"y":720},{"id":"aBC","cond":"Control","x":712,"y":720},{"id":"aBC","cond":"Control","x":722,"y":722},{"id":"aBC","cond":"Control","x":734,"y":722},{"id":"aBC","cond":"Control","x":748,"y":723},
{"id":"aBD","cond":"DA","x":398,"y":690},{"id":"aBD","cond":"DA","x":410,"y":689},{"id":"aBD","cond":"DA","x":422,"y":691},{"id":"aBD","cond":"DA","x":434,"y":690},{"id":"aBD","cond":"DA","x":446,"y":692},{"id":"aBD","cond":"DA","x":458,"y":692},{"id":"aBD","cond":"DA","x":470,"y":694},{"id":"aBD","cond":"DA","x":482,"y":696},{"id":"aBD","cond":"DA","x":494,"y":698},{"id":"aBD","cond":"DA","x":505,"y":700},{"id":"aBD","cond":"DA","x":513,"y":704},{"id":"aBD","cond":"DA","x":518,"y":714},{"id":"aBD","cond":"DA","x":524,"y":726},{"id":"aBD","cond":"DA","x":530,"y":737},{"id":"aBD","cond":"DA","x":537,"y":746},{"id":"aBD","cond":"DA","x":545,"y":753},{"id":"aBD","cond":"DA","x":554,"y":758},{"id":"aBD","cond":"DA","x":562,"y":761},{"id":"aBD","cond":"DA","x":572,"y":762},{"id":"aBD","cond":"DA","x":582,"y":761},{"id":"aBD","cond":"DA","x":592,"y":759},{"id":"aBD","cond":"DA","x":604,"y":756},{"id":"aBD","cond":"DA","x":616,"y":753},{"id":"aBD","cond":"DA","x":628,"y":750},{"id":"aBD","cond":"DA","x":640,"y":746},{"id":"aBD","cond":"DA","x":652,"y":742},{"id":"aBD","cond":"DA","x":664,"y":738},{"id":"aBD","cond":"DA","x":676,"y":734},{"id":"aBD","cond":"DA","x":688,"y":728},{"id":"aBD","cond":"DA","x":698,"y":722},{"id":"aBD","cond":"DA","x":708,"y":718},{"id":"aBD","cond":"DA","x":718,"y":712},{"id":"aBD","cond":"DA","x":726,"y":706},{"id":"aBD","cond":"DA","x":732,"y":704},{"id":"aBD","cond":"DA","x":740,"y":706},{"id":"aBD","cond":"DA","x":748,"y":707}
],
"dash":[{"x":127,"y":186,"x2":127,"y2":755},{"x":513,"y":185,"x2":513,"y2":750},{"x":8,"y":602,"x2":357,"y2":602}],
"scalebar":[{"x":638,"y":115,"x2":638,"y2":144},{"x":638,"y":144,"x2":692,"y2":144}],
"labels":[
{"text":"A","x":9,"y":20,"kind":"letter"},{"text":"B","x":399,"y":19,"kind":"letter"},
{"text":"FS","x":166,"y":47,"kind":"head"},{"text":"non-FS","x":549,"y":47,"kind":"head"},
{"text":"Control","x":328,"y":242,"kind":"cond"},{"text":"DA","x":355,"y":428,"kind":"cond"},
{"text":"Pre-","x":10,"y":99,"kind":"plain"},{"text":"Post-","x":8,"y":233,"kind":"plain"},{"text":"response","x":8,"y":262,"kind":"plain"},{"text":"response","x":6,"y":472,"kind":"plain"},{"text":"failure","x":6,"y":595,"kind":"plain"},{"text":"average","x":6,"y":693,"kind":"plain"},{"text":"DA","x":153,"y":702,"kind":"plain"},{"text":"Control","x":147,"y":822,"kind":"plain"},
{"text":"response","x":403,"y":268,"kind":"plain"},{"text":"failure","x":402,"y":352,"kind":"plain"},{"text":"response","x":402,"y":462,"kind":"plain"},{"text":"failure","x":402,"y":597,"kind":"plain"},{"text":"average","x":402,"y":672,"kind":"plain"},{"text":"Control","x":528,"y":698,"kind":"plain"},{"text":"DA","x":545,"y":787,"kind":"plain"},
{"text":"20","x":642,"y":110,"kind":"scale"},{"text":"0.5mV","x":641,"y":130,"kind":"scale"},{"text":"25ms","x":636,"y":163,"kind":"scale"}
],
"bars":[
{"cell":"FS","cond":"Control","pos":0.362,"rate":12.3,"hi":14.6},
{"cell":"FS","cond":"DA","pos":0.664,"rate":34.9,"hi":40.9},
{"cell":"non-FS","cond":"Control","pos":1.369,"rate":33.7,"hi":37.8},
{"cell":"non-FS","cond":"DA","pos":1.664,"rate":27.4,"hi":31.5}
],
"brackets":[
{"x":0.34,"y":15.7,"x2":0.34,"y2":49.7},{"x":0.34,"y":49.7,"x2":1.37,"y2":49.7},{"x":1.37,"y":49.7,"x2":1.37,"y2":44.0},
{"x":0.39,"y":15.7,"x2":0.39,"y2":43.4},{"x":0.39,"y":43.4,"x2":0.66,"y2":43.4},{"x":0.66,"y":43.4,"x2":0.66,"y2":42.0}
],
"stars":[{"x":0.863,"y":50.6,"text":"*"},{"x":0.524,"y":44.3,"text":"*"}],
"cornerC":[{"x":-0.557,"y":69.7,"text":"C"}],
"pts":[
{"type":"FS","rate":0.2,"amp":1.50},{"type":"FS","rate":0.2,"amp":1.45},{"type":"FS","rate":10.2,"amp":1.50},{"type":"FS","rate":4.8,"amp":1.23},{"type":"FS","rate":0.2,"amp":0.92},{"type":"FS","rate":0.2,"amp":0.71},{"type":"FS","rate":0.2,"amp":0.54},{"type":"FS","rate":4.8,"amp":0.50},{"type":"FS","rate":15,"amp":0.75},{"type":"FS","rate":20,"amp":0.645},{"type":"FS","rate":9.7,"amp":0.36},{"type":"FS","rate":9.7,"amp":0.29},{"type":"FS","rate":15,"amp":0.35},{"type":"FS","rate":20,"amp":0.40},{"type":"FS","rate":20,"amp":0.355},{"type":"FS","rate":25,"amp":0.37},{"type":"FS","rate":35.3,"amp":0.355},
{"type":"non-FS","rate":10,"amp":0.75},{"type":"non-FS","rate":15,"amp":0.276},{"type":"non-FS","rate":25,"amp":0.50},{"type":"non-FS","rate":25,"amp":0.461},{"type":"non-FS","rate":25,"amp":0.287},{"type":"non-FS","rate":30.2,"amp":0.236},{"type":"non-FS","rate":40,"amp":0.21},{"type":"non-FS","rate":44.9,"amp":0.238},{"type":"non-FS","rate":44.9,"amp":0.159},{"type":"non-FS","rate":50.2,"amp":0.20},{"type":"non-FS","rate":60,"amp":0.174}
],
"r2":[{"x":27.5,"y":0.934,"text":"R²=0.448"}],
"dtexts":[{"x":-38.98,"y":2.029,"text":"D","kind":"letter"},{"x":30,"y":1.815,"text":"Control","kind":"title"}],
"yline":[{"x":-10,"y":0,"y2":1.6}]
},
"concat":[
{
"width":669,"height":836,
"encoding":{
"x":{"field":"x","type":"quantitative","scale":{"domain":[87,756],"nice":false,"zero":false},"axis":null},
"y":{"field":"y","type":"quantitative","scale":{"domain":[0,836],"nice":false,"zero":false,"reverse":true},"axis":null}
},
"layer":[
{"data":{"name":"dash"},"mark":{"type":"rule","color":"#222","strokeWidth":1.5,"strokeDash":[8,5]},"encoding":{"x2":{"field":"x2"},"y2":{"field":"y2"}}},
{"data":{"name":"noisy"},"mark":{"type":"line","color":"#9a9a9a","strokeWidth":4.5,"strokeDash":[1,1.5],"opacity":0.6},"encoding":{"detail":{"field":"id"}}},
{"data":{"name":"noisy"},"mark":{"type":"line","color":"#333333","strokeWidth":2.2,"strokeDash":[2.5,1],"opacity":0.85},"encoding":{"detail":{"field":"id"}}},
{"data":{"name":"pre"},"mark":{"type":"line","color":"black","strokeWidth":2.5},"encoding":{"detail":{"field":"id"}}},
{"data":{"name":"avg"},"mark":{"type":"line","strokeWidth":3.2},"encoding":{"detail":{"field":"id"},"color":{"field":"cond","type":"nominal","scale":{"domain":["Control","DA"],"range":["#000000","#8a8a8a"]},"legend":null}}},
{"data":{"name":"scalebar"},"mark":{"type":"rule","color":"black","strokeWidth":1.5},"encoding":{"x2":{"field":"x2"},"y2":{"field":"y2"}}},
{"data":{"name":"labels"},"transform":[{"filter":"datum.kind == 'letter'"}],"mark":{"type":"text","align":"left","baseline":"middle","fontSize":32,"fontWeight":"bold"},"encoding":{"text":{"field":"text"}}},
{"data":{"name":"labels"},"transform":[{"filter":"datum.kind == 'head'"}],"mark":{"type":"text","align":"left","baseline":"middle","fontSize":22,"fontWeight":"bold"},"encoding":{"text":{"field":"text"}}},
{"data":{"name":"labels"},"transform":[{"filter":"datum.kind == 'cond'"}],"mark":{"type":"text","align":"left","baseline":"middle","fontSize":27,"fontWeight":"bold"},"encoding":{"text":{"field":"text"}}},
{"data":{"name":"labels"},"transform":[{"filter":"datum.kind == 'plain'"}],"mark":{"type":"text","align":"left","baseline":"middle","fontSize":22},"encoding":{"text":{"field":"text"}}},
{"data":{"name":"labels"},"transform":[{"filter":"datum.kind == 'scale'"}],"mark":{"type":"text","align":"left","baseline":"middle","fontSize":20},"encoding":{"text":{"field":"text"}}}
]
},
{
"spacing":21,
"columns":2,
"align":"none",
"resolve":{"scale":{"fill":"independent"},"legend":{"fill":"independent"}},
"concat":[
{
"width":271,"height":254,
"layer":[
{"data":{"name":"bars"},"mark":{"type":"bar","orient":"vertical","size":41,"stroke":"black","strokeWidth":1.5},
"encoding":{
"x":{"field":"pos","type":"quantitative","title":null,"scale":{"domain":[0,2],"nice":false,"zero":false},
 "axis":{"values":[0.5,1,1.5],"labelExpr":"datum.value == 0.5 ? 'FS' : (datum.value == 1.5 ? 'non-FS' : '')","labelPadding":12,"tickOpacity":{"condition":{"test":"datum.value == 1","value":1},"value":0}}},
"y":{"field":"rate","type":"quantitative","title":"Failure rate changes (%)","scale":{"domain":[0,60],"nice":false},"axis":{"values":[0,10,20,30,40,50,60],"labelPadding":3,"titlePadding":16}},
"y2":{"datum":0},
"fill":{"field":"cond","type":"nominal","scale":{"domain":["Control","DA"],"range":["#141414","#8f8f8f"]},
 "legend":{"title":null,"orient":"none","legendX":196,"legendY":40,"symbolType":"square","symbolSize":196,"symbolStrokeColor":"black","symbolStrokeWidth":1.5,"rowPadding":8,"labelOffset":6}}
}},
{"data":{"name":"bars"},"mark":{"type":"rule","color":"black","strokeWidth":2},"encoding":{"x":{"field":"pos","type":"quantitative","title":null},"y":{"field":"rate","type":"quantitative","title":"Failure rate changes (%)"},"y2":{"field":"hi"}}},
{"data":{"name":"bars"},"mark":{"type":"tick","orient":"horizontal","color":"black","size":11,"thickness":2},"encoding":{"x":{"field":"pos","type":"quantitative","title":null},"y":{"field":"hi","type":"quantitative","title":"Failure rate changes (%)"}}},
{"data":{"name":"brackets"},"mark":{"type":"rule","color":"black","strokeWidth":2.5},"encoding":{"x":{"field":"x","type":"quantitative","title":null},"x2":{"field":"x2"},"y":{"field":"y","type":"quantitative","title":"Failure rate changes (%)"},"y2":{"field":"y2"}}},
{"data":{"name":"stars"},"mark":{"type":"text","fontSize":22,"align":"center","baseline":"middle"},"encoding":{"x":{"field":"x","type":"quantitative","title":null},"y":{"field":"y","type":"quantitative","title":"Failure rate changes (%)"},"text":{"field":"text"}}},
{"data":{"name":"cornerC"},"mark":{"type":"text","fontSize":32,"fontWeight":"bold","align":"center","baseline":"middle"},"encoding":{"x":{"field":"x","type":"quantitative","title":null},"y":{"field":"y","type":"quantitative","title":"Failure rate changes (%)"},"text":{"field":"text"}}}
]
},
{
"width":254,"height":224,
"layer":[
{"data":{"name":"pts"},"mark":{"type":"point","shape":"circle","filled":true,"size":110,"stroke":"black","strokeWidth":2.5,"opacity":1},
"encoding":{
"x":{"field":"rate","type":"quantitative","title":"Failure rate (%)","scale":{"domain":[-10,70],"nice":false,"zero":false},"axis":{"values":[-10,10,30,50,70],"labelExpr":"'' + datum.value","labelPadding":10,"titlePadding":16}},
"y":{"field":"amp","type":"quantitative","title":"IPSP amplitude (mV)","scale":{"domain":[0,1.715],"nice":false},"axis":{"values":[0,0.4,0.8,1.2,1.6],"format":"~g","labelPadding":3,"titlePadding":14,"domain":false}},
"fill":{"field":"type","type":"nominal","scale":{"domain":["FS","non-FS"],"range":["white","black"]},
 "legend":{"title":null,"orient":"none","legendX":116,"legendY":27,"symbolType":"circle","symbolSize":110,"symbolStrokeColor":"black","symbolStrokeWidth":2.5,"rowPadding":6,"labelOffset":8}}
}},
{"data":{"name":"yline"},"mark":{"type":"rule","color":"black","strokeWidth":2},"encoding":{"x":{"field":"x","type":"quantitative","title":"Failure rate (%)"},"y":{"field":"y","type":"quantitative","title":"IPSP amplitude (mV)"},"y2":{"field":"y2"}}},
{"data":{"name":"r2"},"mark":{"type":"text","fontSize":18,"align":"left","baseline":"middle"},"encoding":{"x":{"field":"x","type":"quantitative","title":"Failure rate (%)"},"y":{"field":"y","type":"quantitative","title":"IPSP amplitude (mV)"},"text":{"field":"text"}}},
{"data":{"name":"dtexts"},"transform":[{"filter":"datum.kind == 'letter'"}],"mark":{"type":"text","fontSize":32,"fontWeight":"bold","align":"center","baseline":"middle"},"encoding":{"x":{"field":"x","type":"quantitative","title":"Failure rate (%)"},"y":{"field":"y","type":"quantitative","title":"IPSP amplitude (mV)"},"text":{"field":"text"}}},
{"data":{"name":"dtexts"},"transform":[{"filter":"datum.kind == 'title'"}],"mark":{"type":"text","fontSize":24,"align":"center","baseline":"middle"},"encoding":{"x":{"field":"x","type":"quantitative","title":"Failure rate (%)"},"y":{"field":"y","type":"quantitative","title":"IPSP amplitude (mV)"},"text":{"field":"text"}}}
]
}
]
}
]
}
